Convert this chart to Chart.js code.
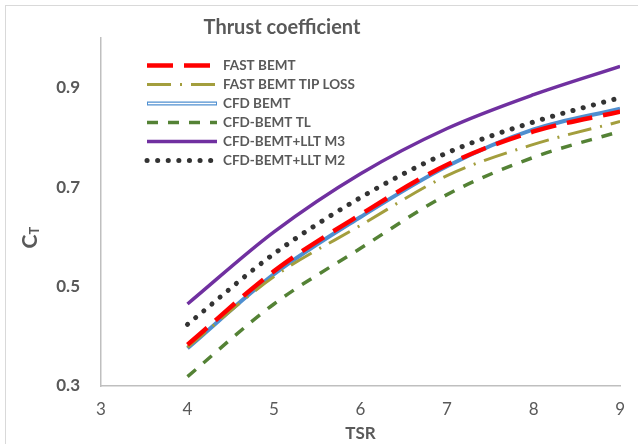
<!DOCTYPE html>
<html>
<head>
<meta charset="utf-8">
<script src="https://cdn.jsdelivr.net/npm/chart.js@4/dist/chart.umd.min.js"></script>
<style>
  html, body { margin: 0; padding: 0; background: #fff; overflow: hidden; }
  #wrap { position: relative; width: 638px; height: 444px; }
  canvas { position: absolute; left: 0; top: 0; }
</style>
</head>
<body>
<div id="wrap"><canvas id="ctChart" width="638" height="444"></canvas></div>
<script>
// TSR values and thrust coefficient per model
const tsr = [4, 5, 6, 7, 8, 9];
const fastBemt = [0.383, 0.531, 0.645, 0.745, 0.812, 0.852];
const fastBemtTipLoss = [0.378, 0.520, 0.623, 0.723, 0.786, 0.832];
const cfdBemt = [0.376, 0.525, 0.640, 0.742, 0.816, 0.858];
const cfdBemtTl = [0.319, 0.465, 0.577, 0.685, 0.760, 0.812];
const lltM3 = [0.465, 0.610, 0.727, 0.818, 0.886, 0.943];
const lltM2 = [0.424, 0.566, 0.679, 0.769, 0.831, 0.880];

const xTicks = [3, 4, 5, 6, 7, 8, 9];
const yTicks = [0.3, 0.5, 0.7, 0.9];

const FONT = "Lato, 'Open Sans', sans-serif";
const GREY = "#595959";

function pts(ys) {
  return tsr.map((x, i) => ({ x: x, y: ys[i] }));
}

// chart title, y title, outer border and the in-plot legend
const decor = {
  id: "decor",
  beforeDraw(chart) {
    const ctx = chart.ctx;
    ctx.save();
    ctx.strokeStyle = "#d9d9d9";
    ctx.lineWidth = 1;
    ctx.strokeRect(5.5, 5.5, 700, 500);
    ctx.restore();
  },
  afterDraw(chart) {
    const ctx = chart.ctx;
    ctx.save();
    ctx.fillStyle = GREY;
    ctx.font = "bold 20px " + FONT;
    ctx.textAlign = "center";
    ctx.textBaseline = "middle";
    ctx.fillText("Thrust coefficient", 282, 28);

    // C_T rotated
    ctx.translate(30, 238);
    ctx.rotate(-Math.PI / 2);
    ctx.textAlign = "left";
    ctx.font = "bold 21px " + FONT;
    const cw = ctx.measureText("C").width;
    ctx.fillText("C", -(cw + 7) / 2, 0);
    ctx.font = "bold 13px " + FONT;
    ctx.fillText("T", -(cw + 7) / 2 + cw, 5);
    ctx.restore();

    // legend
    ctx.save();
    const x0 = 147, x1 = 217;
    let y = 65;
    chart.data.datasets.forEach(ds => {
      if (ds.hideLegend) return;
      const yy = Math.round(y) + 0.5;
      ctx.beginPath();
      ctx.setLineDash(ds.borderDash || []);
      ctx.lineCap = ds.borderCapStyle || "butt";
      ctx.strokeStyle = ds.borderColor;
      ctx.lineWidth = ds.borderWidth;
      ctx.moveTo(x0, yy);
      ctx.lineTo(x1, yy);
      ctx.stroke();
      if (ds.innerColor) {
        ctx.beginPath();
        ctx.strokeStyle = ds.innerColor;
        ctx.lineWidth = 1.5;
        ctx.moveTo(x0 + 1, yy);
        ctx.lineTo(x1 - 1, yy);
        ctx.stroke();
      }
      ctx.setLineDash([]);
      ctx.fillStyle = GREY;
      ctx.font = "bold 13.5px " + FONT;
      ctx.textAlign = "left";
      ctx.textBaseline = "middle";
      ctx.fillText(ds.label, 223, yy);
      y += 19;
    });
    ctx.restore();
  }
};

new Chart(document.getElementById("ctChart"), {
  type: "line",
  data: {
    datasets: [
      {
        label: "FAST BEMT",
        data: pts(fastBemt),
        borderColor: "#ff0000",
        borderWidth: 4.5,
        borderDash: [26, 11]
      },
      {
        label: "FAST BEMT TIP LOSS",
        data: pts(fastBemtTipLoss),
        borderColor: "#a39e3d",
        borderWidth: 3,
        borderDash: [24, 9, 2, 9]
      },
      {
        label: "CFD BEMT",
        data: pts(cfdBemt),
        borderColor: "#4f8fd0",
        borderWidth: 4,
        innerColor: "#ffffff"
      },
      {
        label: "CFD BEMT inner",
        hideLegend: true,
        data: pts(cfdBemt),
        borderColor: "#ffffff",
        borderWidth: 1.5
      },
      {
        label: "CFD-BEMT TL",
        data: pts(cfdBemtTl),
        borderColor: "#548235",
        borderWidth: 3.5,
        borderDash: [11, 10]
      },
      {
        label: "CFD-BEMT+LLT M3",
        data: pts(lltM3),
        borderColor: "#7030a0",
        borderWidth: 3.5
      },
      {
        label: "CFD-BEMT+LLT M2",
        data: pts(lltM2),
        borderColor: "#333333",
        borderWidth: 5,
        borderDash: [0.1, 10.5],
        borderCapStyle: "round"
      }
    ]
  },
  options: {
    responsive: false,
    animation: false,
    layout: { padding: { left: 0, right: 16, top: 38, bottom: 0 } },
    elements: {
      point: { radius: 0, hoverRadius: 0 },
      line: { cubicInterpolationMode: "monotone", fill: false }
    },
    plugins: {
      legend: { display: false },
      tooltip: { enabled: false },
      title: { display: false }
    },
    scales: {
      x: {
        type: "linear",
        min: 3,
        max: 9,
        afterBuildTicks: s => { s.ticks = xTicks.map(v => ({ value: v })); },
        afterFit: s => { s.height = 58; },
        grid: { display: false, drawTicks: false },
        border: { display: true, color: "#bfbfbf", width: 1.5 },
        ticks: {
          color: GREY,
          padding: 13,
          font: { family: FONT, size: 17 }
        },
        title: {
          display: true,
          text: "TSR",
          color: GREY,
          padding: { top: -6, bottom: 0 },
          font: { family: FONT, size: 17, weight: "bold" }
        }
      },
      y: {
        min: 0.3,
        max: 1.0,
        afterBuildTicks: s => { s.ticks = yTicks.map(v => ({ value: v })); },
        afterFit: s => { s.width = 101; },
        grid: { display: false, drawTicks: false },
        border: { display: true, color: "#bfbfbf", width: 1.5 },
        ticks: {
          color: GREY,
          padding: 21,
          font: { family: FONT, size: 17, weight: "bold" },
          callback: v => v.toFixed(1)
        }
      }
    }
  },
  plugins: [decor]
});
</script>
</body>
</html>
